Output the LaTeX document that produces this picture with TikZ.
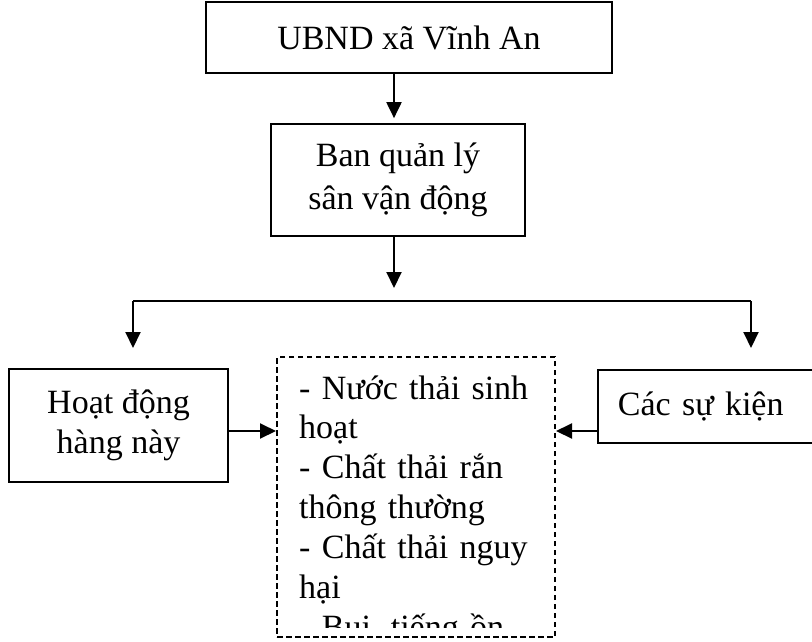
\documentclass[tikz,border=0pt]{standalone}
\usepackage{fontspec}
\setmainfont{Liberation Serif}
\usetikzlibrary{arrows.meta}

\begin{document}
\begin{tikzpicture}[x=1pt, y=-1pt,
    box/.style={draw, line width=1.7pt, inner sep=0pt, align=center,
      font=\fontsize{34}{40}\selectfont},
    wastebox/.style={draw, line width=2pt, dash pattern=on 5.5pt off 3.5pt, inner sep=0pt},
    arr/.style={line width=2pt, -{Triangle[length=16pt,width=15pt]}},
    link/.style={line width=2pt}]

    % Frame
    \useasboundingbox (0,0) rectangle (812,641);

    % Management chain
    \node[box, minimum width=406pt, minimum height=71pt] (ubnd) at (409,37.5) {UBND xã Vĩnh An};
    \node[box, minimum width=254pt, minimum height=112pt,
      font=\fontsize{34}{43}\selectfont] (mgmt) at (398,180) {Ban quản lý\\sân vận động};

    % Sources
    \node[box, minimum width=219pt, minimum height=113pt] (daily) at (118.5,425.5) {Hoạt động\\hàng này};
    \node[box, anchor=west, align=left, text width=193pt, inner xsep=20pt,
      minimum height=73pt] (events) at (597,406.5) {Các sự kiện};

    % Waste box (text overflows, cut off at the bottom)
    \node[wastebox, minimum width=278pt, minimum height=280pt] (waste) at (416,497) {};
    \begin{scope}
      \clip (277,357) rectangle (555,627);
      \node[anchor=base west, text width=250pt, align=left, inner sep=0pt,
        font=\fontsize{34}{39.9}\selectfont] (wasteText) at (299,399)
        {- Nước thải sinh\\hoạt\\- Chất thải rắn\\thông thường\\- Chất thải nguy\\hại\\- Bụi, tiếng ồn};
    \end{scope}

    % Free ends
    \coordinate (spine) at (394,0);
    \coordinate (drop) at (394,288);
    \coordinate (busL) at (133,301);
    \coordinate (busR) at (751,301);
    \coordinate (tipL) at (133,348);
    \coordinate (tipR) at (751,348);
    \coordinate (row) at (0,431);

    % Arrows
    \draw[arr, shorten >=5pt] (ubnd.south -| spine) -- (mgmt.north -| spine);
    \draw[arr] (mgmt.south -| spine) -- (drop);
    \draw[link] (busL) -- (busR);
    \draw[arr] (busL) -- (tipL);
    \draw[arr] (busR) -- (tipR);
    \draw[arr] (daily.east |- row) -- (waste.west |- row);
    \draw[arr] (events.west |- row) -- (waste.east |- row);

\end{tikzpicture}
\end{document}
